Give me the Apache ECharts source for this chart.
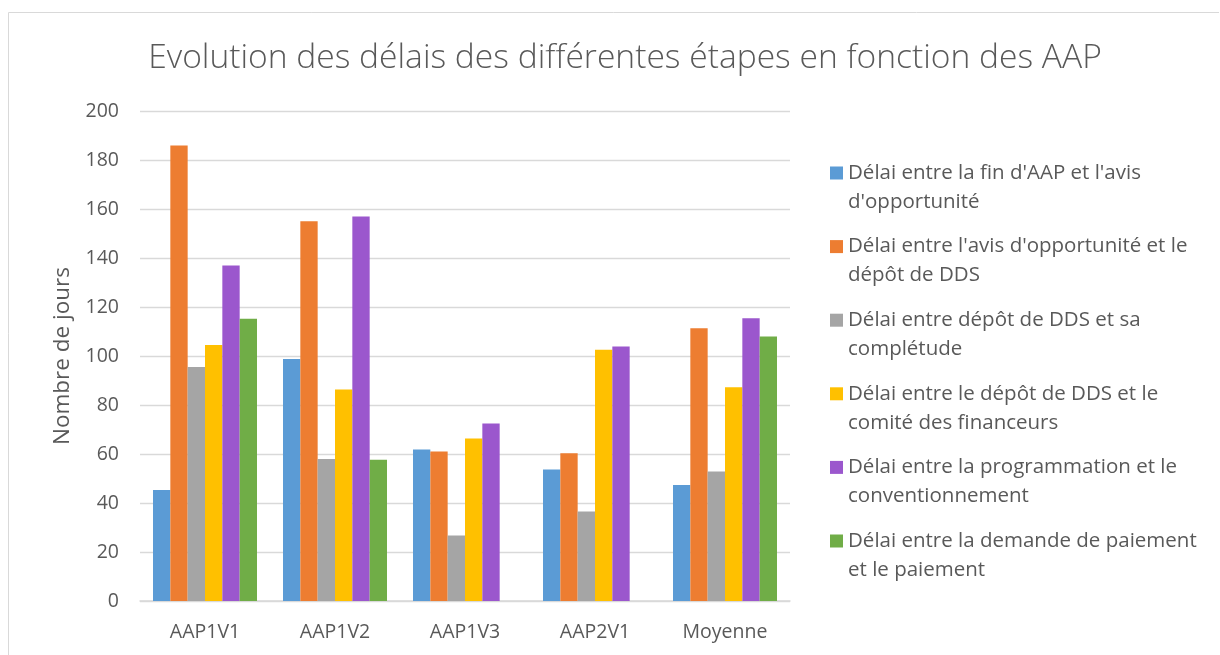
<!DOCTYPE html>
<html>
<head>
<meta charset="utf-8">
<script src="https://cdn.jsdelivr.net/npm/echarts@6/dist/echarts.min.js"></script>
<style>
  html, body { margin: 0; padding: 0; background: #fff; }
  #chart { width: 1220px; height: 655px; }
</style>
</head>
<body>
<div id="chart"></div>
<script>
// Délais par AAP (en jours)
var categories = ['AAP1V1', 'AAP1V2', 'AAP1V3', 'AAP2V1', 'Moyenne'];
var seriesNames = [
    "Délai entre la fin d'AAP et l'avis d'opportunité",
    "Délai entre l'avis d'opportunité et le dépôt de DDS",
    "Délai entre dépôt de DDS et sa complétude",
    "Délai entre le dépôt de DDS et le comité des financeurs",
    "Délai entre la programmation et le conventionnement",
    "Délai entre la demande de paiement et le paiement"
];
// libellés coupés sur deux lignes comme dans la légende d'origine
var legendLines = [
    ["Délai entre la fin d'AAP et l'avis", "d'opportunité"],
    ["Délai entre l'avis d'opportunité et le", "dépôt de DDS"],
    ["Délai entre dépôt de DDS et sa", "complétude"],
    ["Délai entre le dépôt de DDS et le", "comité des financeurs"],
    ["Délai entre la programmation et le", "conventionnement"],
    ["Délai entre la demande de paiement", "et le paiement"]
];
var finAapAvis      = [45.3, 98.8, 61.8, 53.7, 47.3];
var avisDepot       = [185.9, 155.0, 61.0, 60.3, 111.3];
var depotCompletude = [95.5, 58.0, 26.7, 36.5, 52.9];
var depotComite     = [104.5, 86.3, 66.3, 102.6, 87.2];
var progConvention  = [136.9, 156.9, 72.4, 103.9, 115.4];
var demandePaiement = [115.2, 57.7, null, null, 108.0];
var yTicks = { min: 0, max: 200, interval: 20 };

var colors = ['#5b9bd5', '#ed7d31', '#a5a5a5', '#ffc000', '#9b57cd', '#70ad47'];
var values = [finAapAvis, avisDepot, depotCompletude, depotComite, progConvention, demandePaiement];
var textColor = '#595959';
var font = 'Open Sans';

var chart = echarts.init(document.getElementById('chart'));

// une légende par série : le carré doit être en face de la 1re ligne,
// d'où la ligne vide en tête (le bloc de 3 lignes est centré sur le carré)
var legends = seriesNames.map(function (name, i) {
    return {
        orient: 'vertical',
        left: 825,
        top: 124.5 + i * 73.6,
        itemWidth: 13,
        itemHeight: 13,
        itemGap: 0,
        icon: 'rect',
        data: [name],
        formatter: function () { return '\n' + legendLines[i].join('\n'); },
        textStyle: {
            color: textColor,
            fontFamily: font,
            fontSize: 20.5,
            lineHeight: 29
        }
    };
});

var series = seriesNames.map(function (name, i) {
    return {
        name: name,
        type: 'bar',
        data: values[i],
        barGap: 0,
        barCategoryGap: '20%',
        itemStyle: { color: colors[i] }
    };
});

chart.setOption({
    animation: false,
    color: colors,
    title: {
        text: 'Evolution des délais des différentes étapes en fonction des AAP',
        left: 620,
        top: 36,
        textAlign: 'center',
        textStyle: {
            color: textColor,
            fontFamily: font,
            fontWeight: 300,
            fontSize: 33.6
        }
    },
    graphic: [{
        type: 'polyline',
        shape: { points: [[8.5, 655], [8.5, 12.5], [1219, 12.5]] },
        style: { stroke: '#d9d9d9', fill: null, lineWidth: 1 },
        silent: true
    }],
    legend: legends,
    grid: { left: 140, right: 430, top: 111, bottom: 54 },
    xAxis: {
        type: 'category',
        data: categories,
        axisTick: { show: false },
        axisLine: { lineStyle: { color: '#d9d9d9', width: 1.5 } },
        axisLabel: { color: textColor, fontFamily: font, fontSize: 19.5, margin: 21 }
    },
    yAxis: {
        type: 'value',
        min: yTicks.min,
        max: yTicks.max,
        interval: yTicks.interval,
        name: 'Nombre de jours',
        nameLocation: 'middle',
        nameGap: 66,
        nameTextStyle: { color: textColor, fontFamily: font, fontSize: 22.5 },
        axisLine: { show: false },
        axisTick: { show: false },
        axisLabel: { color: textColor, fontFamily: font, fontSize: 19.5, margin: 21 },
        splitLine: { lineStyle: { color: '#d9d9d9', width: 1.3 } }
    },
    series: series
});
</script>
</body>
</html>
